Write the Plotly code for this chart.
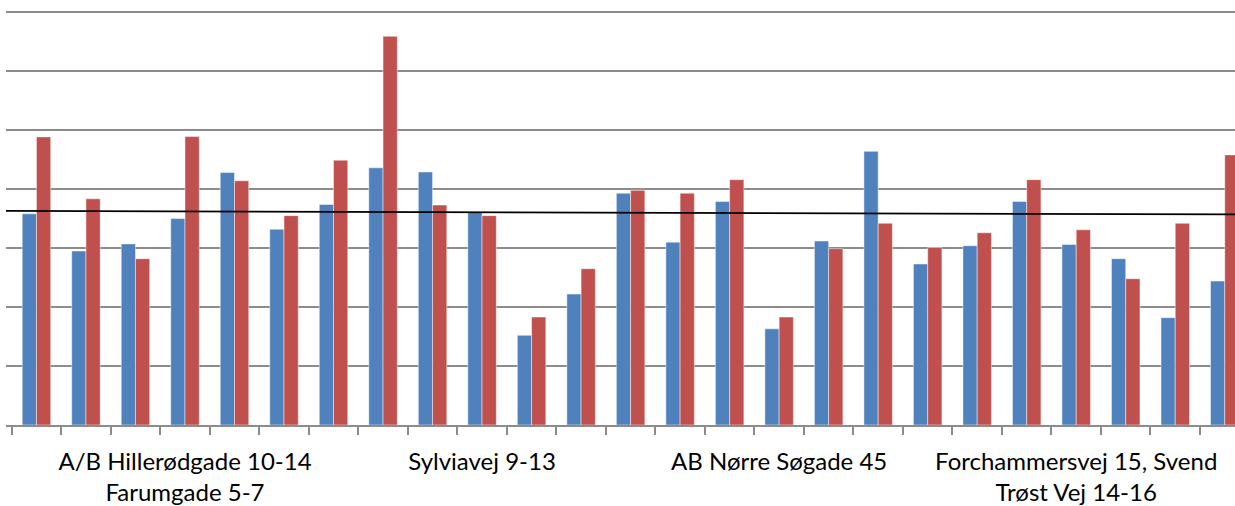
import plotly.graph_objects as go

# Data
blue_values = [3.58, 2.95, 3.07, 3.50, 4.28, 3.32, 3.74, 4.36, 4.29, 3.61,
               1.52, 2.22, 3.93, 3.10, 3.79, 1.63, 3.12, 4.64, 2.73, 3.04,
               3.79, 3.06, 2.82, 1.82, 2.44]
red_values = [4.885, 3.835, 2.82, 4.89, 4.14, 3.55, 4.49, 6.59, 3.73, 3.55,
              1.83, 2.65, 3.98, 3.93, 4.16, 1.83, 2.99, 3.42, 3.01, 3.26,
              4.16, 3.31, 2.48, 3.42, 4.58]
label_positions = [3, 9, 15, 21]
label_texts = ["A/B Hillerødgade 10-14<br>Farumgade 5-7",
               "Sylviavej 9-13",
               "AB Nørre Søgade 45",
               "Forchammersvej 15, Svend<br>Trøst Vej 14-16"]
trend_values = [3.632, 3.570]

x_range = [-0.615, 24.207]
categories = list(range(len(blue_values)))
boundaries = [c - 0.5 for c in categories]

fig = go.Figure()
fig.add_trace(go.Bar(x=categories, y=blue_values, marker=dict(color="#4F81BD",
              line=dict(color="rgba(255,255,255,0.45)", width=1))))
fig.add_trace(go.Bar(x=categories, y=red_values, marker=dict(color="#C0504D",
              line=dict(color="rgba(255,255,255,0.45)", width=1))))
fig.add_trace(go.Scatter(x=x_range, y=trend_values, mode="lines",
                         line=dict(color="black", width=1.8), cliponaxis=True))

fig.update_layout(
    width=1235, height=506,
    margin=dict(l=6, r=0, t=11, b=81, pad=0, autoexpand=False),
    paper_bgcolor="white", plot_bgcolor="white",
    barmode="group", bargap=0.425, bargroupgap=0,
    showlegend=False,
    font=dict(family="Lato, Calibri, sans-serif", size=24, color="black"),
)
fig.update_xaxes(
    range=x_range, tickmode="array", tickvals=label_positions, ticktext=label_texts,
    ticks="outside", ticklen=14, tickcolor="rgba(0,0,0,0)", automargin=False,
    showgrid=False, zeroline=False,
    showline=True, linecolor="#8c8c8c", linewidth=2,
    minor=dict(tickvals=boundaries, ticks="outside", ticklen=8, tickwidth=2,
               tickcolor="#8c8c8c", showgrid=False),
    tickfont=dict(size=24, color="black"),
)
fig.update_yaxes(
    range=[0, 7.02], tickmode="array", tickvals=[1, 2, 3, 4, 5, 6, 7],
    showticklabels=False, showgrid=True, automargin=False,
    gridcolor="#8c8c8c", gridwidth=2, zeroline=False, ticks="",
)

fig.write_html(
    "out.html",
    config={"displayModeBar": False},
    post_script="document.body.style.margin='0';document.body.style.overflow='hidden';",
)
